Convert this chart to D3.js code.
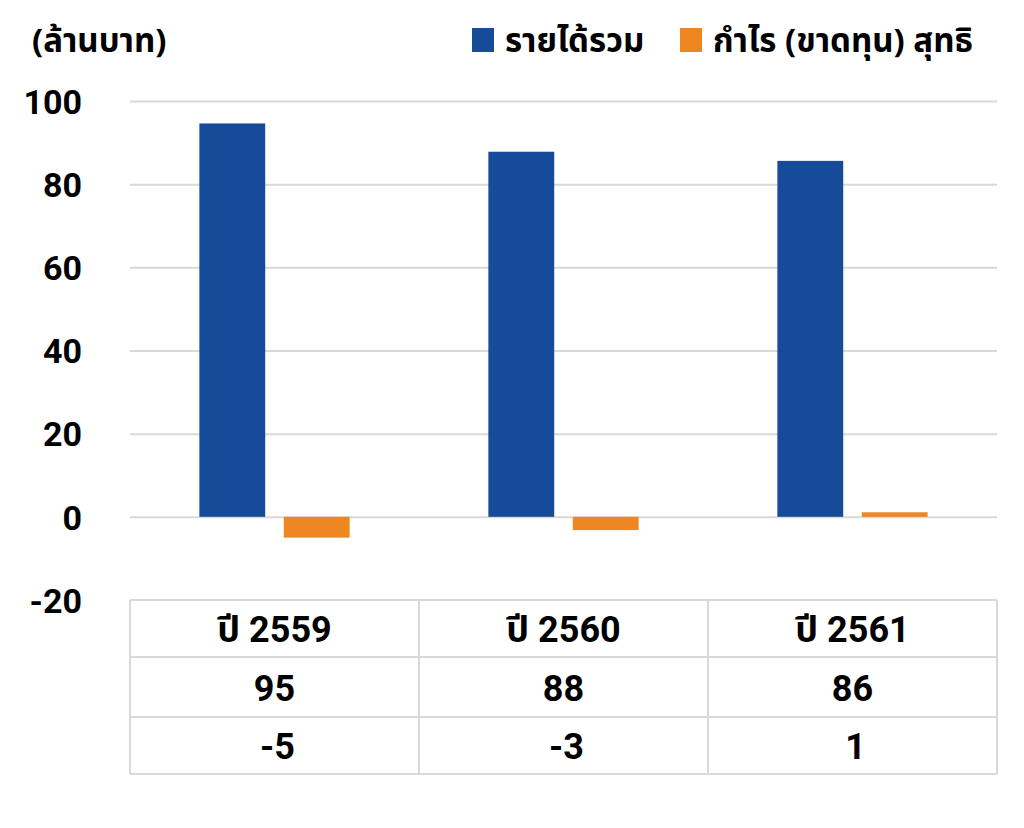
<!DOCTYPE html>
<html><head><meta charset="utf-8">
<script src="https://cdn.jsdelivr.net/npm/d3@7"></script>
<style>
body{margin:0;background:#fff;}
text{font-family:"Noto Sans Thai","Noto Sans","DejaVu Sans",sans-serif;font-weight:700;fill:#000;}
text.num{font-family:Roboto,"Noto Sans Thai","Noto Sans",sans-serif;}
</style></head>
<body>
<svg id="c" width="1024" height="828"></svg>
<script>
const categories = ["ปี 2559", "ปี 2560", "ปี 2561"];
const seriesNames = ["รายได้รวม", "กำไร (ขาดทุน) สุทธิ"];
const revenue = [94.6, 87.8, 85.6];
const profit = [-5.0, -3.2, 1.1];
const revenueLabels = ["95", "88", "86"];
const profitLabels = ["-5", "-3", "1"];
const yTicks = [-20, 0, 20, 40, 60, 80, 100];
const colors = ["#154B98", "#EE8722"];

const svg = d3.select("#c");
const pLeft = 130, pRight = 997, pTop = 101, pBottom = 600;
const y = d3.scaleLinear().domain([-20, 100]).range([pBottom, pTop]);
const x = d3.scaleBand().domain(categories).range([pLeft, pRight]);
const inner = d3.scaleBand().domain([0,1]).range([x.bandwidth()*0.24, x.bandwidth()*0.76]).paddingInner(0.22);

// gridlines + y axis
const yAxis = d3.axisLeft(y).tickValues(yTicks).tickSize(0).tickPadding(0).tickFormat(d => String(d));
const gy = svg.append("g").attr("transform", `translate(${pLeft},0)`).call(yAxis);
gy.select(".domain").remove();
gy.selectAll(".tick text").attr("class", "num").attr("x", -48).attr("dy", "0.36em")
  .style("font-size", "34px").attr("text-anchor", "end").attr("font-family", null).attr("fill", null);
gy.selectAll(".tick").filter(d => d !== -20).append("line")
  .attr("x1", 0).attr("x2", pRight - pLeft).attr("stroke", "#d9d9d9").attr("stroke-width", 2);

// bars
const data = categories.map((c, i) => ({c, vals: [revenue[i], profit[i]]}));
const g = svg.append("g");
data.forEach(d => {
  d.vals.forEach((v, j) => {
    g.append("rect")
      .attr("x", x(d.c) + inner(j))
      .attr("width", inner.bandwidth())
      .attr("y", y(Math.max(0, v)))
      .attr("height", Math.abs(y(v) - y(0)))
      .attr("fill", colors[j]);
  });
});

// table
const rowEdges = [600, 657, 717, 774];
const rows = [categories, revenueLabels, profitLabels];
const tg = svg.append("g");
rowEdges.forEach(yy => tg.append("line").attr("x1", pLeft).attr("x2", pRight).attr("y1", yy).attr("y2", yy).attr("stroke", "#d9d9d9").attr("stroke-width", 2));
[pLeft, ...categories.map(c => x(c) + x.bandwidth())].forEach(xx =>
  tg.append("line").attr("x1", xx).attr("x2", xx).attr("y1", rowEdges[0]).attr("y2", rowEdges[3]).attr("stroke", "#d9d9d9").attr("stroke-width", 2));
rows.forEach((r, ri) => {
  r.forEach((t, ci) => {
    tg.append("text")
      .attr("class", "num")
      .attr("x", x(categories[ci]) + x.bandwidth()/2 + (ri === 2 ? 3 : 0))
      .attr("y", (rowEdges[ri] + rowEdges[ri+1]) / 2 + 1)
      .attr("dy", "0.36em")
      .attr("text-anchor", "middle")
      .style("font-size", "36px")
      .text(t);
  });
});

// title
svg.append("text").attr("x", 32).attr("y", 40).attr("dy", "0.35em").style("font-size", "33px").text("(ล้านบาท)");

// legend
const legX = [472, 680];
seriesNames.forEach((n, i) => {
  svg.append("rect").attr("x", legX[i]).attr("y", 28).attr("width", 22).attr("height", 24).attr("fill", colors[i]);
  svg.append("text").attr("x", legX[i] + 33).attr("y", 40).attr("dy", "0.35em").style("font-size", "33px").text(n);
});
</script>
</body></html>
